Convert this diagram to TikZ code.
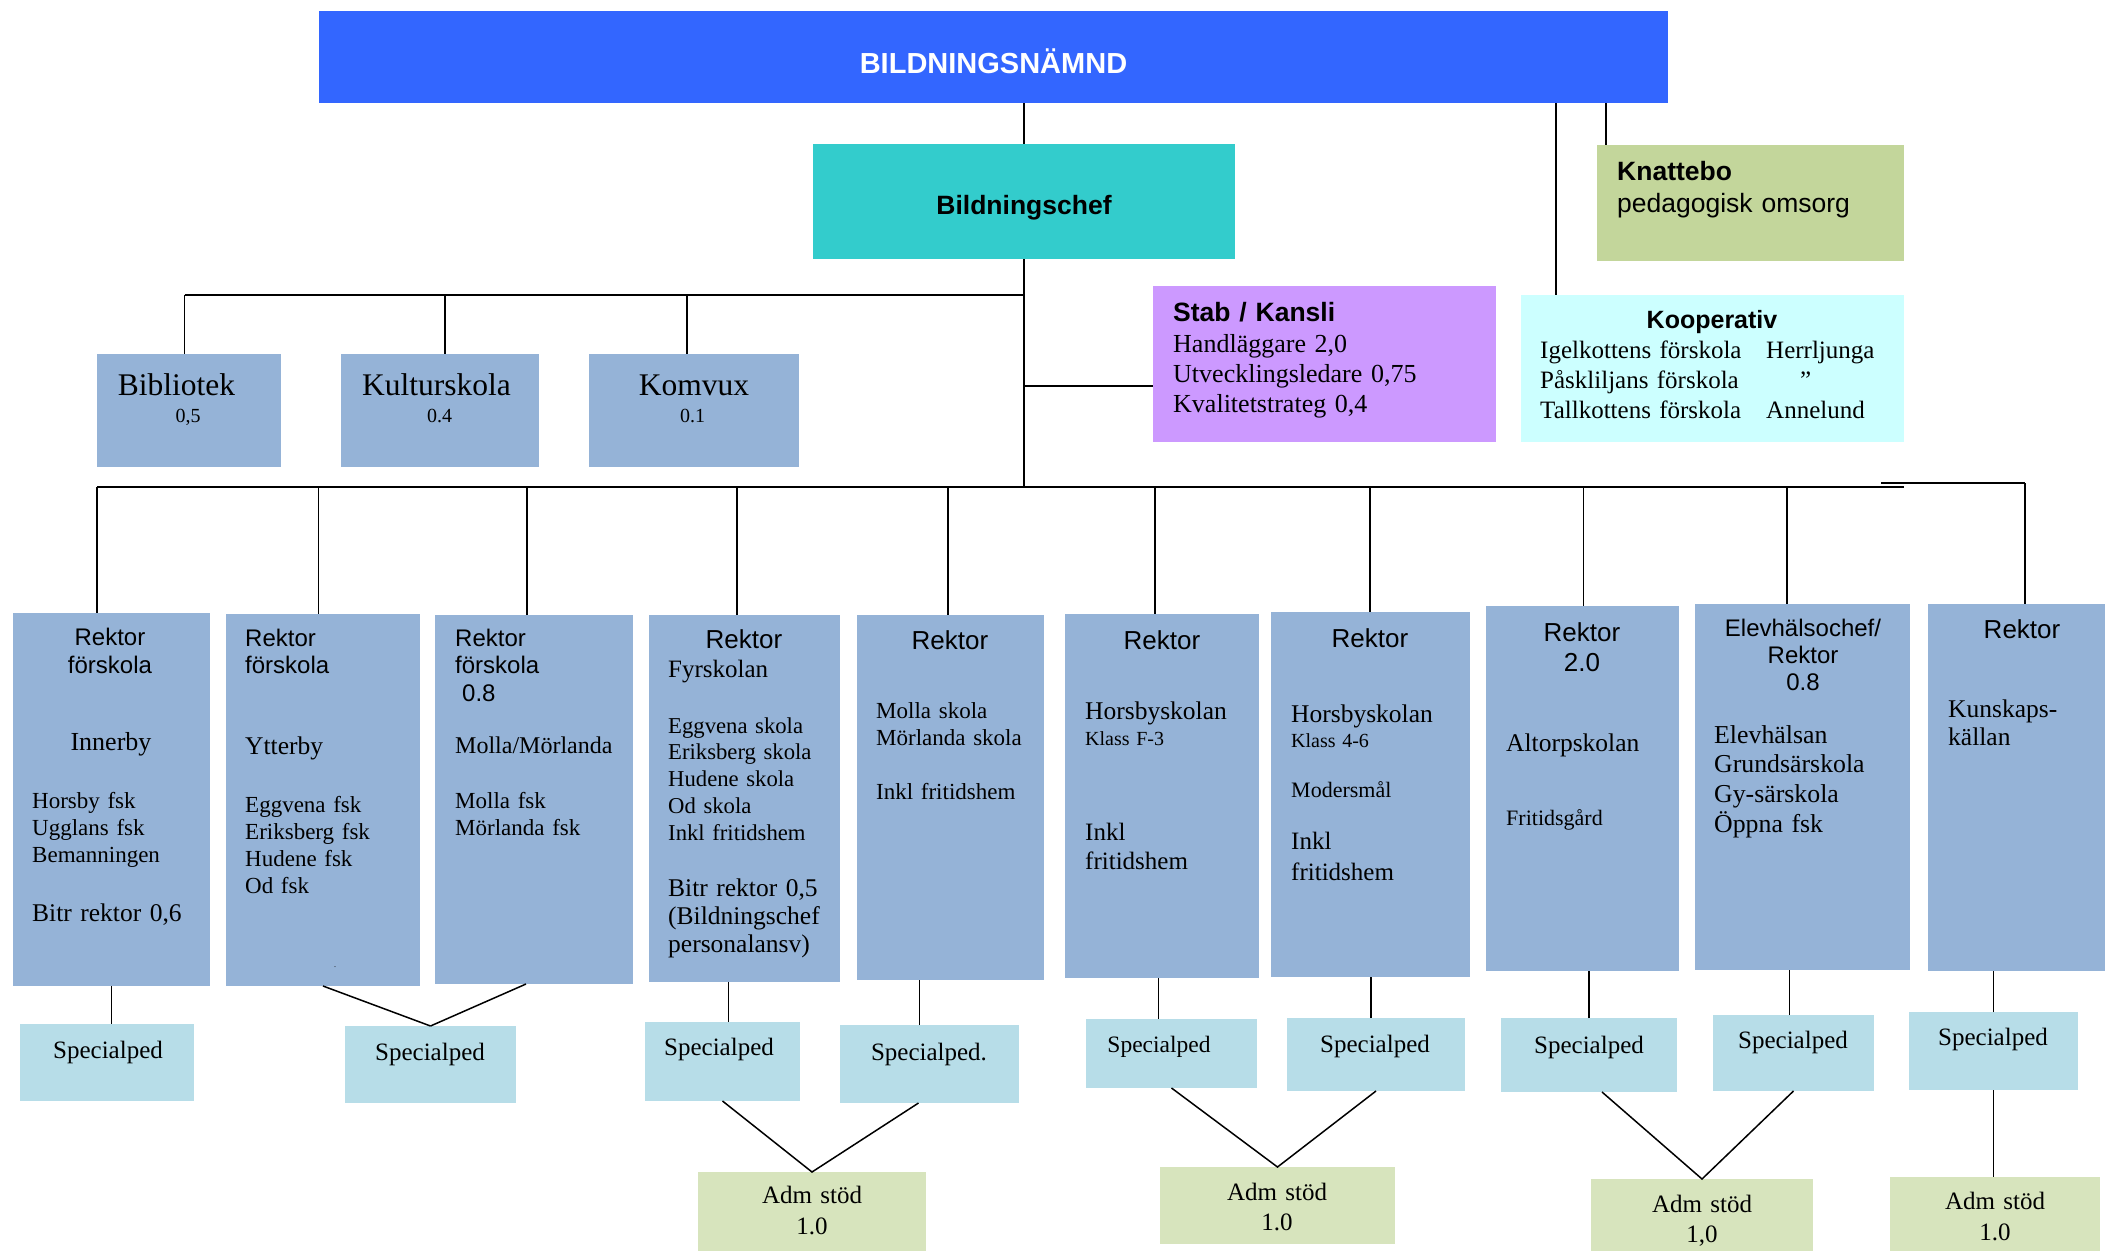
\documentclass[tikz,border=0pt]{standalone}
\usepackage{fontspec}
\setmainfont{Liberation Serif}
\setsansfont{Liberation Sans}

\definecolor{namndblue}{HTML}{3366FF}
\definecolor{chefteal}{HTML}{33CCCC}
\definecolor{knattegreen}{HTML}{C3D69B}
\definecolor{stabviolet}{HTML}{CC99FF}
\definecolor{koopcyan}{HTML}{CCFFFF}
\definecolor{rektorblue}{HTML}{95B3D7}
\definecolor{spedblue}{HTML}{B7DDE8}
\definecolor{admgreen}{HTML}{D7E4BD}

\newcommand\fsans[2]{\sffamily\fontsize{#1}{#2}\selectfont}
\newcommand\fserif[2]{\rmfamily\fontsize{#1}{#2}\selectfont}

\begin{document}
\begin{tikzpicture}[x=1pt,y=-1pt]

    \tikzset{box/.style = {anchor=north west, inner sep=0, outer sep=0}}
    \tikzset{ctr/.style = {inner sep=0, anchor=base}}
    \tikzset{tc/.style = {inner sep=0, anchor=base, align=center, text width=220pt}}
    \tikzset{tl/.style = {inner sep=0, anchor=base west, align=left, text width=280pt}}
    \tikzset{link/.style = {line width=1.5pt}}
    \tikzset{bus/.style = {line width=2.5pt}}

    \useasboundingbox (0,0) rectangle (2105,1251);

    % top
    \node[box, fill=namndblue, minimum width=1349pt, minimum height=92pt] (namnd) at (319,11) {};
    \node[ctr, font=\fsans{29}{32}\bfseries, text=white] (namndt) at (993.5,73) {BILDNINGSNÄMND};
    \node[box, fill=chefteal, minimum width=422pt, minimum height=115pt] (chef) at (813,144) {};
    \node[ctr, font=\fsans{26.5}{30}\bfseries] (cheft) at (1024,214) {Bildningschef};
    \node[box, fill=knattegreen, minimum width=307pt, minimum height=116pt] (knatte) at (1597,145) {};
    \node[tl, font=\fsans{26.5}{30}\bfseries] (knattea) at (1617,180) {Knattebo};
    \node[tl, font=\fsans{26.5}{30}] (knatteb) at (1617,212) {pedagogisk omsorg};
    \node[box, fill=stabviolet, minimum width=343pt, minimum height=156pt] (stab) at (1153,286) {};
    \node[tl, font=\fsans{26.5}{30}\bfseries] (staba) at (1173,321) {Stab / Kansli};
    \node[tl, font=\fserif{26}{30}] (stabb) at (1173,352) {Handläggare 2,0\\Utvecklingsledare 0,75\\Kvalitetstrateg 0,4};
    \node[box, fill=koopcyan, minimum width=383pt, minimum height=147pt] (koop) at (1521,295) {};
    \node[ctr, font=\fsans{25}{30}\bfseries] (koopa) at (1712,328) {Kooperativ};
    \node[tl, font=\fserif{25}{30}] (koopb) at (1540,358) {Igelkottens förskola\\Påskliljans förskola\\Tallkottens förskola};
    \node[tl, font=\fserif{25}{30}] (koopc) at (1766,358) {Herrljunga\\\hspace*{34pt}”\\Annelund};

    % stodfunktioner
    \node[box, fill=rektorblue, minimum width=184pt, minimum height=113pt] (bibl) at (97,354) {};
    \node[ctr, font=\fserif{31.5}{34}] (bibla) at (176.5,395) {Bibliotek};
    \node[ctr, font=\fserif{20}{24}] (biblb) at (188,422) {0,5};
    \node[box, fill=rektorblue, minimum width=198pt, minimum height=113pt] (kultur) at (341,354) {};
    \node[ctr, font=\fserif{31.5}{34}] (kultura) at (436.5,395) {Kulturskola};
    \node[ctr, font=\fserif{20}{24}] (kulturb) at (439.5,422) {0.4};
    \node[box, fill=rektorblue, minimum width=210pt, minimum height=113pt] (komvux) at (589,354) {};
    \node[ctr, font=\fserif{31.5}{34}] (komvuxa) at (694,395) {Komvux};
    \node[ctr, font=\fserif{20}{24}] (komvuxb) at (692.5,422) {0.1};

    % rektorer
    \node[box, fill=rektorblue, minimum width=197pt, minimum height=373pt] (r1) at (13,613) {};
    \node[tc, font=\fsans{24}{28}] (r1a) at (110,645) {Rektor\\förskola};
    \node[ctr, font=\fserif{26}{29}] (r1b) at (111,750) {Innerby};
    \node[tl, font=\fserif{23}{27}] (r1c) at (32,808) {Horsby fsk\\Ugglans fsk\\Bemanningen};
    \node[tl, font=\fserif{25.5}{29}] (r1d) at (32,921) {Bitr rektor 0,6};

    \node[box, fill=rektorblue, minimum width=194pt, minimum height=372pt] (r2) at (226,614) {};
    \node[tl, font=\fsans{24}{27}] (r2a) at (245,646) {Rektor\\förskola};
    \node[tl, font=\fserif{25.5}{29}] (r2b) at (245,754) {Ytterby};
    \node[tl, font=\fserif{23}{27}] (r2c) at (245,812) {Eggvena fsk\\Eriksberg fsk\\Hudene fsk\\Od fsk};
    \node[ctr, font=\fserif{8}{10}] (r2d) at (335,967) {.};

    \node[box, fill=rektorblue, minimum width=198pt, minimum height=369pt] (r3) at (435,615) {};
    \node[tl, font=\fsans{24}{27.5}] (r3a) at (455,646) {Rektor\\förskola\\\hspace*{7pt}0.8};
    \node[tl, font=\fserif{24}{27}] (r3b) at (455,753) {Molla/Mörlanda};
    \node[tl, font=\fserif{23}{27}] (r3c) at (455,808) {Molla fsk\\Mörlanda fsk};

    \node[box, fill=rektorblue, minimum width=191pt, minimum height=367pt] (r4) at (649,615) {};
    \node[ctr, font=\fsans{26}{29}] (r4a) at (744,648) {Rektor};
    \node[tl, font=\fserif{25}{29}] (r4b) at (668,677) {Fyrskolan};
    \node[tl, font=\fserif{22.7}{26.75}] (r4c) at (668,733) {Eggvena skola\\Eriksberg skola\\Hudene skola\\Od skola\\Inkl fritidshem};
    \node[tl, font=\fserif{25.5}{28}] (r4d) at (668,896) {Bitr rektor 0,5\\(Bildningschef\\personalansv)};

    \node[box, fill=rektorblue, minimum width=187pt, minimum height=365pt] (r5) at (857,615) {};
    \node[ctr, font=\fsans{26}{29}] (r5a) at (950,649) {Rektor};
    \node[tl, font=\fserif{23}{27}] (r5b) at (876,718) {Molla skola\\Mörlanda skola\\[27pt]Inkl fritidshem};

    \node[box, fill=rektorblue, minimum width=194pt, minimum height=364pt] (r6) at (1065,614) {};
    \node[ctr, font=\fsans{26}{29}] (r6a) at (1162,649) {Rektor};
    \node[tl, font=\fserif{25.5}{29}] (r6b) at (1085,719) {Horsbyskolan};
    \node[tl, font=\fserif{20}{24}] (r6c) at (1085,745) {Klass F-3};
    \node[tl, font=\fserif{25}{29}] (r6d) at (1085,840) {Inkl\\fritidshem};

    \node[box, fill=rektorblue, minimum width=199pt, minimum height=365pt] (r7) at (1271,612) {};
    \node[ctr, font=\fsans{26}{29}] (r7a) at (1370,647) {Rektor};
    \node[tl, font=\fserif{25.5}{29}] (r7b) at (1291,722) {Horsbyskolan};
    \node[tl, font=\fserif{20}{24}] (r7c) at (1291,747) {Klass 4-6};
    \node[tl, font=\fserif{22}{26}] (r7d) at (1291,797) {Modersmål};
    \node[tl, font=\fserif{25}{31}] (r7e) at (1291,849) {Inkl\\fritidshem};

    \node[box, fill=rektorblue, minimum width=193pt, minimum height=365pt] (r8) at (1486,606) {};
    \node[tc, font=\fsans{26}{30}] (r8a) at (1582,641) {Rektor\\2.0};
    \node[tl, font=\fserif{25.5}{29}] (r8b) at (1506,751) {Altorpskolan};
    \node[tl, font=\fserif{22}{26}] (r8c) at (1506,825) {Fritidsgård};

    \node[box, fill=rektorblue, minimum width=215pt, minimum height=366pt] (r9) at (1695,604) {};
    \node[tc, font=\fsans{24}{27}] (r9a) at (1803,636) {Elevhälsochef/\\Rektor\\0.8};
    \node[tl, font=\fserif{25.8}{29.7}] (r9b) at (1714,743) {Elevhälsan\\Grundsärskola\\Gy-särskola\\Öppna fsk};

    \node[box, fill=rektorblue, minimum width=177pt, minimum height=367pt] (r10) at (1928,604) {};
    \node[ctr, font=\fsans{26}{29}] (r10a) at (2022,638) {Rektor};
    \node[tl, font=\fserif{25.5}{28}] (r10b) at (1948,717) {Kunskaps-\\källan};

    % specialped
    \node[box, fill=spedblue, minimum width=174pt, minimum height=77pt] (sp1) at (20,1024) {};
    \node[ctr, font=\fserif{25}{29}] (sp1t) at (108,1058) {Specialped};
    \node[box, fill=spedblue, minimum width=171pt, minimum height=77pt] (sp2) at (345,1026) {};
    \node[ctr, font=\fserif{25}{29}] (sp2t) at (430,1060) {Specialped};
    \node[box, fill=spedblue, minimum width=155pt, minimum height=79pt] (sp3) at (645,1022) {};
    \node[ctr, font=\fserif{25}{29}] (sp3t) at (719,1055) {Specialped};
    \node[box, fill=spedblue, minimum width=179pt, minimum height=78pt] (sp4) at (840,1025) {};
    \node[ctr, font=\fserif{25}{29}] (sp4t) at (929,1060) {Specialped.};
    \node[box, fill=spedblue, minimum width=171pt, minimum height=69pt] (sp5) at (1086,1019) {};
    \node[ctr, font=\fserif{23.5}{29}] (sp5t) at (1159,1052) {Specialped};
    \node[box, fill=spedblue, minimum width=178pt, minimum height=73pt] (sp6) at (1287,1018) {};
    \node[ctr, font=\fserif{25}{29}] (sp6t) at (1375,1052) {Specialped};
    \node[box, fill=spedblue, minimum width=176pt, minimum height=74pt] (sp7) at (1501,1018) {};
    \node[ctr, font=\fserif{25}{29}] (sp7t) at (1589,1053) {Specialped};
    \node[box, fill=spedblue, minimum width=161pt, minimum height=76pt] (sp8) at (1713,1015) {};
    \node[ctr, font=\fserif{25}{29}] (sp8t) at (1793,1048) {Specialped};
    \node[box, fill=spedblue, minimum width=169pt, minimum height=78pt] (sp9) at (1909,1012) {};
    \node[ctr, font=\fserif{25}{29}] (sp9t) at (1993,1045) {Specialped};

    % adm stod
    \node[box, fill=admgreen, minimum width=228pt, minimum height=79pt] (adm1) at (698,1172) {};
    \node[tc, font=\fserif{25}{31}] (adm1t) at (812,1203) {Adm stöd\\1.0};
    \node[box, fill=admgreen, minimum width=235pt, minimum height=77pt] (adm2) at (1160,1167) {};
    \node[tc, font=\fserif{25}{30}] (adm2t) at (1277,1200) {Adm stöd\\1.0};
    \node[box, fill=admgreen, minimum width=222pt, minimum height=72pt] (adm3) at (1591,1179) {};
    \node[tc, font=\fserif{25}{30}] (adm3t) at (1702,1212) {Adm stöd\\1,0};
    \node[box, fill=admgreen, minimum width=210pt, minimum height=74pt] (adm4) at (1890,1177) {};
    \node[tc, font=\fserif{25}{31}] (adm4t) at (1995,1209) {Adm stöd\\1.0};

    % ledningar
    \coordinate (hub) at (1024,487);
    \coordinate (sb) at (1024,295);
    \coordinate (s1) at (184.5,295);
    \coordinate (s2) at (445,295);
    \coordinate (s3) at (687,295);
    \coordinate (st) at (1024,386);
    \coordinate (nk) at (1556,103);
    \coordinate (nq) at (1606,103);
    \coordinate (bx) at (1904,487);
    \coordinate (by) at (1881,483);
    \coordinate (b1) at (97,487);
    \coordinate (b2) at (318.5,487);
    \coordinate (b3) at (527,487);
    \coordinate (b4) at (737,487);
    \coordinate (b5) at (948,487);
    \coordinate (b6) at (1155,487);
    \coordinate (b7) at (1370,487);
    \coordinate (b8) at (1583.5,487);
    \coordinate (b9) at (1787,487);
    \coordinate (b10) at (2025,483);

    \draw[link] (namnd.south -| chef.north) -- (chef.north);
    \draw[link] (chef.south) -- (hub);
    \draw[bus] (s1) -- (sb);
    \draw[link] (s1) -- (s1 |- bibl.north);
    \draw[link] (s2) -- (s2 |- kultur.north);
    \draw[link] (s3) -- (s3 |- komvux.north);
    \draw[link] (st) -- (st -| stab.west);
    \draw[link] (nk) -- (nk |- koop.north);
    \draw[link] (nq) -- (nq |- knatte.north);
    \draw[bus] (b1) -- (bx);
    \draw[bus] (by) -- (b10);
    \foreach \i in {1,...,10}
        \draw[link] (b\i) -- (b\i |- r\i.north);

    \coordinate (c3) at ([xshift=6pt]sp3.north);
    \coordinate (c4) at ([xshift=-10pt]sp4.north);
    \coordinate (c5) at ([xshift=-13pt]sp5.north);
    \coordinate (c6) at ([xshift=-5pt]sp6.north);
    \coordinate (c8) at ([xshift=-4pt]sp8.north);
    \draw[link] (r1.south) -- (r1.south |- sp1.north);
    \draw[link] (r2.south) -- (sp2.north);
    \draw[link] ([xshift=-8pt]r3.south) -- (sp2.north);
    \draw[link] (c3) -- (c3 |- r4.south);
    \draw[link] (c4) -- (c4 |- r5.south);
    \draw[link] (c5) -- (c5 |- r6.south);
    \draw[link] (c6) -- (c6 |- r7.south);
    \draw[link] (sp7.north) -- (sp7.north |- r8.south);
    \draw[link] (c8) -- (c8 |- r9.south);
    \draw[link] (sp9.north) -- (sp9.north |- r10.south);

    \draw[link] (sp3.south) -- (adm1.north) -- ([xshift=-11pt]sp4.south);
    \draw[link] (sp5.south) -- (adm2.north) -- (sp6.south);
    \draw[link] ([xshift=13pt]sp7.south) -- (adm3.north) -- (sp8.south);
    \draw[link] (sp9.south) -- (sp9.south |- adm4.north);

\end{tikzpicture}
\end{document}
